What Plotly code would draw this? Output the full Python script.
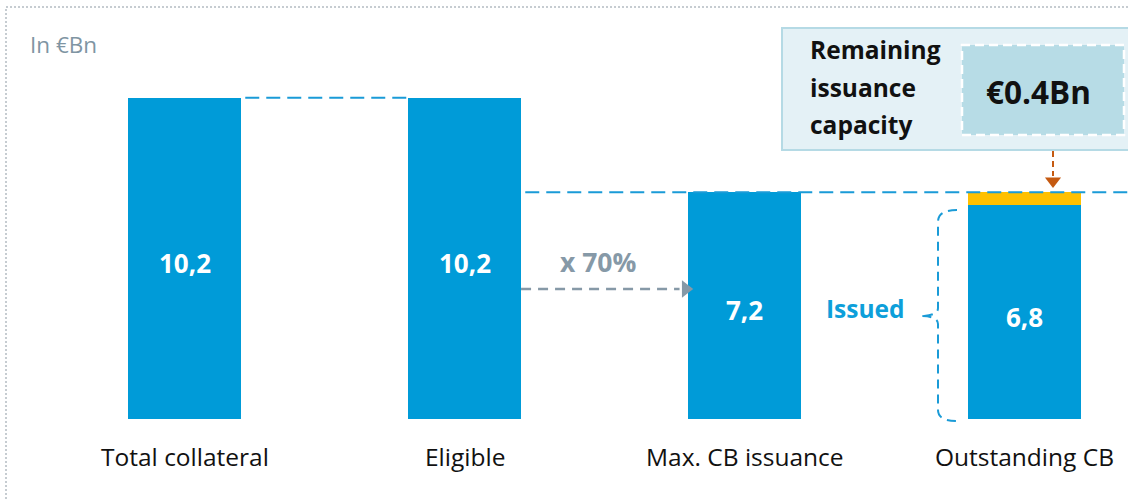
import plotly.graph_objects as go

# ---- data ----
categories = ["Total collateral", "Eligible", "Max. CB issuance", "Outstanding CB"]
bar_values = [10.2, 10.2, 7.2, 6.8]
value_labels = ["10,2", "10,2", "7,2", "6,8"]
remaining_value = 0.4
remaining_label = "€0.4Bn"
ratio_label = "x 70%"
unit_label = "In €Bn"
issued_label = "Issued"
box_lines = ["Remaining", "issuance", "capacity"]

# ---- geometry helpers (pixel <-> paper) ----
W, H = 1128, 499
BAR_W = 0.404
X_RANGE = [-184.5 / 280, (W - 184.5) / 280]
Y_RANGE = [(419 - H) / 31.5, 419 / 31.5]

def px(xp):
    return xp / W

def py(yp):
    return 1 - yp / H

def ydata(yp):
    return Y_RANGE[0] + (1 - yp / H) * (Y_RANGE[1] - Y_RANGE[0])

BLUE = "#009BD8"
YELLOW = "#FFC000"
GREY = "#8699A7"
ORANGE = "#C55A11"
FONT = "Open Sans"

fig = go.Figure()
xs = list(range(len(categories)))
fig.add_trace(go.Bar(x=xs, y=bar_values, width=BAR_W, marker=dict(color=BLUE, line=dict(width=0)),
                     hoverinfo="skip", showlegend=False))
fig.add_trace(go.Bar(x=[xs[-1]], y=[remaining_value], base=[bar_values[-1]], width=BAR_W,
                     marker=dict(color=YELLOW, line=dict(width=0)), hoverinfo="skip", showlegend=False))

shapes = []
# outer dotted frame
shapes.append(dict(type="rect", xref="paper", yref="paper", x0=px(6), y0=py(505), x1=px(1140), y1=py(7),
                   line=dict(color="#B4BCC2", width=1.5, dash="2px,2px"), fillcolor="rgba(0,0,0,0)", layer="below"))
# dashed line at total collateral level
shapes.append(dict(type="line", xref="x", yref="y", x0=xs[0] + BAR_W / 2 + 0.015, x1=xs[1] - BAR_W / 2,
                   y0=bar_values[0], y1=bar_values[0], line=dict(color="#1A9BD7", width=2, dash="14px,7px")))
# dashed line at max issuance level
cap = bar_values[-1] + remaining_value
shapes.append(dict(type="line", xref="x", yref="y", x0=xs[1] + BAR_W / 2 + 0.015, x1=X_RANGE[1] + 0.1,
                   y0=cap, y1=cap, line=dict(color="#1A9BD7", width=2, dash="14px,7px")))
# grey dashed arrow shaft
arrow_y = ydata(289)
shapes.append(dict(type="line", xref="x", yref="y", x0=xs[1] + BAR_W / 2, x1=xs[2] - BAR_W / 2 - 0.03,
                   y0=arrow_y, y1=arrow_y, line=dict(color=GREY, width=2.5, dash="10px,7px")))
# remaining capacity box
shapes.append(dict(type="rect", xref="paper", yref="paper", x0=px(782), y0=py(150), x1=px(1140), y1=py(28),
                   line=dict(color="#B5DAE5", width=2), fillcolor="#E4F1F6"))
shapes.append(dict(type="rect", xref="paper", yref="paper", x0=px(962), y0=py(135), x1=px(1124), y1=py(45),
                   line=dict(color="white", width=2.5, dash="9px,5px"), fillcolor="#B7DCE6"))
# orange dashed arrow shaft
shapes.append(dict(type="line", xref="paper", yref="paper", x0=px(1053), x1=px(1053), y0=py(151), y1=py(176),
                   line=dict(color=ORANGE, width=2, dash="6px,4px")))
# curly bracket (dashed)
def P(x, y):
    return f"{px(x)},{py(y)}"
bracket = (f"M {P(957,210)} Q {P(938,210)} {P(938,222)} L {P(938,308)} Q {P(938,316)} {P(920,316)} "
           f"Q {P(938,316)} {P(938,324)} L {P(938,410)} Q {P(938,421)} {P(957,421)}")
shapes.append(dict(type="path", xref="paper", yref="paper", path=bracket,
                   line=dict(color="#1A9BD7", width=2, dash="9px,6px")))

# arrowheads as markers
fig.add_trace(go.Scatter(x=[xs[2] - BAR_W / 2 - 0.008], y=[arrow_y], mode="markers",
                         marker=dict(symbol="triangle-right", size=15, color=GREY),
                         hoverinfo="skip", showlegend=False, cliponaxis=False))
fig.add_trace(go.Scatter(x=[xs[3] + (1053 - 1024.5) / 280], y=[ydata(181)], mode="markers",
                         marker=dict(symbol="triangle-down", size=14, color=ORANGE),
                         hoverinfo="skip", showlegend=False, cliponaxis=False))

ann = []
def add(x, y, text, size, color, xref="paper", yref="paper", xanchor="center", bold=False):
    ann.append(dict(x=x, y=y, xref=xref, yref=yref, xanchor=xanchor, yanchor="middle",
                    text=f"<b>{text}</b>" if bold else text, showarrow=False,
                    font=dict(family=FONT, size=size, color=color)))

for i, c in enumerate(categories):
    add(xs[i], ydata(456), c, 24.5, "#111111", xref="x", yref="y")
for i, t in enumerate(value_labels):
    add(xs[i], bar_values[i] / 2 - 0.15, t, 26, "white", xref="x", yref="y", bold=True)
add(px(28), py(45), unit_label, 22.5, "#7F95A3", xanchor="left")
add(px(598), py(262), ratio_label, 26.5, GREY, bold=True)
add(px(865), py(308), issued_label, 24.5, "#0D9FDA", bold=True)
for j, line in enumerate(box_lines):
    add(px(808), py(50 + 37 * j), line, 24.5, "#111111", xanchor="left", bold=True)
add(px(1038), py(92), remaining_label, 31.5, "#111111", bold=True)

fig.update_layout(
    width=W, height=H, margin=dict(l=0, r=0, t=0, b=0),
    paper_bgcolor="white", plot_bgcolor="white", barmode="overlay", bargap=0,
    xaxis=dict(range=X_RANGE, visible=False, fixedrange=True),
    yaxis=dict(range=Y_RANGE, visible=False, fixedrange=True),
    shapes=shapes, annotations=ann, showlegend=False,
)
fig.write_html("out.html", config={"displayModeBar": False},
               post_script="document.body.style.margin='0';document.body.style.overflow='hidden';")
